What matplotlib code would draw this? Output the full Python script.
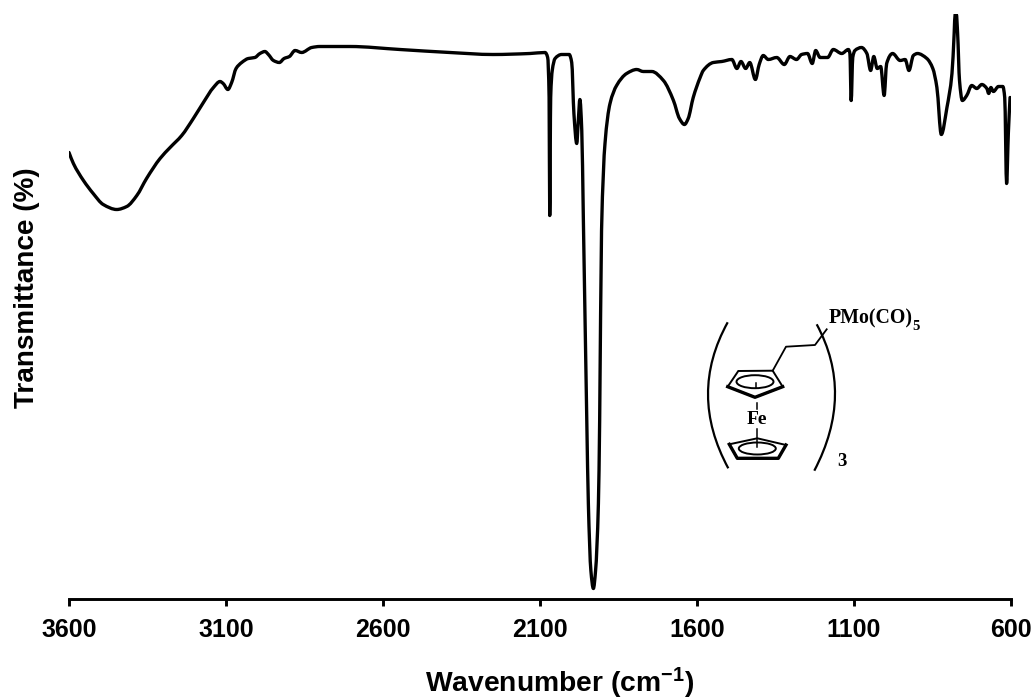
"""
Recreate FTIR spectrum with ferrocenyl phosphine structure inset.
"""

import matplotlib
matplotlib.use("Agg")
import numpy as np
import matplotlib.pyplot as plt
from matplotlib.patches import Ellipse, PathPatch, Polygon
from matplotlib.path import Path

# =========================
# DATA
# =========================
wavenumber = [
    3600, 3586, 3554, 3523, 3491, 3448, 3416, 3384, 3353, 3310, 3278, 3241, 3204, 3172, 3140,
    3119, 3109, 3094, 3082, 3068, 3050, 3029, 3008, 2992, 2976, 2965, 2949, 2930, 2915, 2898,
    2880, 2859, 2827, 2801, 2705, 2546, 2387, 2250, 2132, 2084, 2075.6, 2071, 2069, 2066, 2061,
    2052, 2031, 2007, 1999, 1992, 1983, 1978, 1973, 1967, 1962, 1951, 1946, 1938, 1930, 1923,
    1914, 1910, 1904, 1893, 1877, 1856, 1824, 1792, 1771, 1744, 1707, 1675, 1656, 1640, 1628,
    1612, 1590, 1580, 1548, 1521, 1489, 1473, 1460, 1445, 1432, 1414, 1402, 1389, 1373, 1346,
    1322, 1304, 1283, 1267, 1248, 1233, 1222, 1208, 1184, 1166, 1139, 1118, 1113, 1109, 1104,
    1097, 1076, 1059, 1047, 1037, 1026, 1015, 1004, 996, 977, 953, 937, 925, 911, 898,
    868, 849, 836, 822, 804, 788, 781, 778, 774, 770, 764, 755, 741, 725, 709,
    693, 677, 671, 664, 656, 640, 626, 620, 614, 608.5, 603,
]
transmittance = [
    44.6, 43.5, 41.8, 40.5, 39.4, 38.9, 39.2, 40.3, 42.0, 44.0, 45.1, 46.3, 48.0, 49.6, 51.1,
    51.7, 51.5, 50.9, 51.6, 53.0, 53.6, 54.0, 54.1, 54.5, 54.7, 54.4, 53.8, 53.6, 54.0, 54.2,
    54.8, 54.6, 55.1, 55.2, 55.2, 54.9, 54.6, 54.4, 54.5, 54.6, 54.1, 50.1, 38.3, 50.1, 52.8,
    54.0, 54.4, 54.4, 53.6, 48.5, 45.5, 47.8, 49.9, 46.8, 38.1, 17.8, 9.5, 2.8, 1.0, 2.8,
    9.5, 17.8, 36.8, 45.5, 49.5, 51.3, 52.5, 52.9, 52.7, 52.7, 51.8, 49.8, 48.0, 47.4, 48.0,
    50.1, 52.1, 52.8, 53.6, 53.7, 53.9, 53.0, 53.7, 53.0, 53.6, 51.9, 53.4, 54.3, 53.9, 54.1,
    53.4, 54.2, 53.9, 54.4, 54.5, 53.5, 54.8, 54.1, 54.1, 54.9, 54.5, 54.9, 54.5, 49.8, 54.1,
    54.8, 55.1, 54.5, 52.8, 54.2, 53.0, 53.2, 50.3, 53.5, 54.5, 53.8, 53.9, 52.8, 54.3, 54.5,
    54.0, 53.0, 51.1, 46.4, 49.1, 52.5, 56.5, 58.4, 58.4, 56.5, 51.8, 49.8, 50.3, 51.3, 51.0,
    51.4, 51.0, 50.5, 51.1, 50.7, 51.2, 51.2, 50.1, 41.5, 46.5, 50.1,
]
x_ticks = [3600, 3100, 2600, 2100, 1600, 1100, 600]

# structure drawing, in pixels of the figure
left_paren = [(727.7, 322.3), (688, 394), (728.3, 468.3)]
right_paren = [(816.7, 324.3), (854.5, 394), (814.3, 470.7)]
side_chain = [(772.7, 370.7), (786, 346.7), (815, 345), (826.7, 329.3)]
top_ring = [(738.3, 371), (772.7, 370.7), (782.7, 386.7), (755, 397.3), (727.7, 386.7)]
bottom_ring = [(729.3, 444.3), (757.3, 438.3), (786, 445), (778.3, 458.3), (737.3, 458.3)]
top_front = [(727.7, 386.7), (755, 397.3), (782.7, 386.7)]
bottom_front = [(729.3, 444.3), (737.3, 458.3), (778.3, 458.3), (786, 445)]
fe_bonds = [
    [(756, 383), (756, 388)],
    [(756.7, 403), (756.7, 409)],
    [(757.3, 429), (757.3, 447)],
]


# smooth line through the read points, no overshoot (pchip style tangents)
def smooth_path(xs, ys):
    x = np.array(xs, dtype=float)
    y = np.array(ys, dtype=float)
    h = np.diff(x)
    d = np.diff(y) / h
    m = np.zeros_like(x)
    for i in range(1, len(x) - 1):
        if d[i - 1] * d[i] > 0:
            w1 = 2 * h[i] + h[i - 1]
            w2 = h[i] + 2 * h[i - 1]
            m[i] = (w1 + w2) / (w1 / d[i - 1] + w2 / d[i])
    m[0], m[-1] = d[0], d[-1]
    verts = [(x[0], y[0])]
    codes = [Path.MOVETO]
    for i in range(len(h)):
        verts.append((x[i] + h[i] / 3, y[i] + m[i] * h[i] / 3))
        verts.append((x[i + 1] - h[i] / 3, y[i + 1] - m[i + 1] * h[i] / 3))
        verts.append((x[i + 1], y[i + 1]))
        codes += [Path.CURVE4] * 3
    return Path(verts, codes)


# =========================
# STYLE
# =========================
plt.rcParams["font.family"] = ["Liberation Sans", "DejaVu Sans"]
plt.rcParams["font.weight"] = "bold"
plt.rcParams["mathtext.fontset"] = "custom"
plt.rcParams["mathtext.bf"] = "Liberation Sans:bold"
plt.rcParams["mathtext.rm"] = "Liberation Sans:bold"
plt.rcParams["mathtext.default"] = "bf"

W, H = 1034, 700
fig = plt.figure(figsize=(W / 100, H / 100), dpi=100)
ax = fig.add_axes([69 / W, (H - 598.5) / H, (1011 - 69) / W, 584.5 / H])

# =========================
# SPECTRUM
# =========================
ax.add_patch(PathPatch(smooth_path(wavenumber, transmittance), fill=False,
                       edgecolor="black", linewidth=2.4, joinstyle="round", capstyle="round"))
ax.set_xlim(3600, 600)
ax.set_ylim(0, 58.45)
ax.set_xticks(x_ticks)
ax.set_yticks([])
ax.tick_params(axis="x", length=5, width=2.1, labelsize=18, pad=9)
for side in ["top", "left", "right"]:
    ax.spines[side].set_visible(False)
ax.spines["bottom"].set_linewidth(2.1)

fig.text(560 / W, 1 - 692 / H, r"Wavenumber (cm$^{-1}$)", fontsize=20.3, ha="center", va="baseline")
fig.text(27 / W, 1 - 288 / H, "Transmittance (%)", fontsize=20.1, rotation=90, ha="center", va="center")

# =========================
# STRUCTURE OVERLAY
# =========================
over = fig.add_axes([0, 0, 1, 1], facecolor="none")
over.set_xlim(0, W)
over.set_ylim(H, 0)
over.axis("off")

for paren in [left_paren, right_paren]:
    path = Path(paren, [Path.MOVETO, Path.CURVE3, Path.CURVE3])
    over.add_patch(PathPatch(path, fill=False, edgecolor="black", linewidth=1.6))

over.plot(*zip(*side_chain), color="black", linewidth=1.3)
over.add_patch(Polygon(top_ring, closed=True, fill=False, edgecolor="black", linewidth=1.4))
over.add_patch(Polygon(bottom_ring, closed=True, fill=False, edgecolor="black", linewidth=1.4))
over.plot(*zip(*top_front), color="black", linewidth=2.4)
over.plot(*zip(*bottom_front), color="black", linewidth=2.4)
over.add_patch(Ellipse((755, 381.7), 37, 13, fill=False, edgecolor="black", linewidth=1.4))
over.add_patch(Ellipse((757.3, 448.5), 37, 12, fill=False, edgecolor="black", linewidth=1.4))
for bond in fe_bonds:
    over.plot(*zip(*bond), color="black", linewidth=1.1)

serif = ["Liberation Serif", "DejaVu Serif"]
over.text(829, 318, "PMo(CO)", family=serif, fontsize=14.3, ha="left", va="center")
over.text(912, 326, "5", family=serif, fontsize=10.5, ha="left", va="center")
over.text(757.3, 419.3, "Fe", family=serif, fontsize=14, ha="center", va="center")
over.text(842.3, 461, "3", family=serif, fontsize=13.5, ha="center", va="center")

fig.savefig("out.png", dpi=100)
